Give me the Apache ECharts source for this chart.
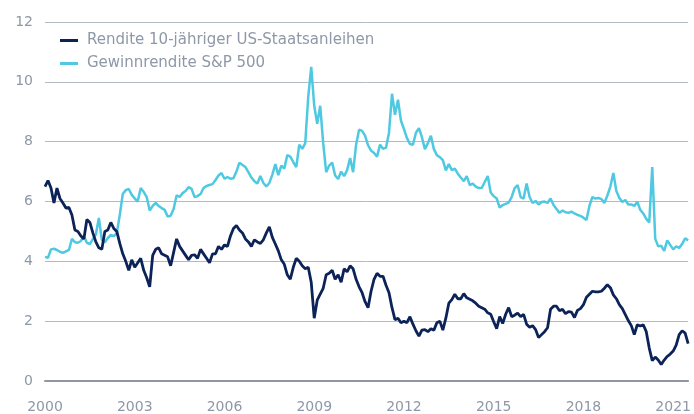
<!DOCTYPE html>
<html>
<head>
<meta charset="utf-8">
<script src="https://cdn.jsdelivr.net/npm/echarts@6/dist/echarts.min.js"></script>
<style>
  html, body { margin: 0; padding: 0; background: #fff; }
  #chart { width: 694px; height: 414px; }
</style>
</head>
<body>
<div id="chart"></div>
<script>
// Werte alle 0,1 Jahre ab 2000.0
const startYear = 2000
const stepYear = 0.1
const xTicks = [2000, 2003, 2006, 2009, 2012, 2015, 2018, 2021]

const treasury10y = [
  6.5, 6.7, 6.45, 5.95, 6.45, 6.1, 5.95, 5.78, 5.8, 5.55,
  5.05, 5.0, 4.85, 4.75, 5.4, 5.3, 4.95, 4.65, 4.45, 4.4,
  5.0, 5.05, 5.3, 5.1, 5.0, 4.6, 4.25, 4.0, 3.7, 4.05,
  3.8, 3.95, 4.1, 3.7, 3.45, 3.15, 4.2, 4.4, 4.45, 4.25,
  4.2, 4.15, 3.85, 4.3, 4.75, 4.5, 4.35, 4.2, 4.05, 4.2,
  4.22, 4.1, 4.4, 4.25, 4.1, 3.95, 4.25, 4.25, 4.5, 4.4,
  4.55, 4.5, 4.85, 5.1, 5.2, 5.05, 4.95, 4.75, 4.65, 4.5,
  4.72, 4.65, 4.6, 4.72, 4.95, 5.15, 4.8, 4.58, 4.35, 4.05,
  3.9, 3.55, 3.4, 3.8, 4.1, 4.0, 3.85, 3.75, 3.8, 3.3,
  2.1, 2.7, 2.9, 3.1, 3.55, 3.6, 3.7, 3.4, 3.55, 3.3,
  3.75, 3.65, 3.85, 3.75, 3.4, 3.15, 2.95, 2.65, 2.45, 3.0,
  3.4, 3.6, 3.5, 3.5, 3.2, 2.95, 2.45, 2.05, 2.1, 1.95,
  2.0, 1.95, 2.15, 1.9, 1.68, 1.5, 1.7, 1.72, 1.65, 1.75,
  1.7, 1.95, 2.0, 1.7, 2.1, 2.6, 2.72, 2.9, 2.75, 2.75,
  2.92, 2.78, 2.73, 2.68, 2.6, 2.5, 2.45, 2.4, 2.28, 2.23,
  1.98, 1.75, 2.15, 1.92, 2.23, 2.45, 2.15, 2.2, 2.27, 2.15,
  2.23, 1.9, 1.8, 1.85, 1.72, 1.45, 1.55, 1.65, 1.78, 2.4,
  2.5, 2.5, 2.35, 2.4, 2.25, 2.32, 2.3, 2.12, 2.36, 2.42,
  2.55, 2.8, 2.9, 3.0, 2.98, 2.98, 3.0, 3.1, 3.22, 3.12,
  2.88, 2.75, 2.55, 2.42, 2.22, 2.02, 1.85, 1.55, 1.88, 1.84,
  1.88, 1.65, 1.1, 0.68, 0.8, 0.7, 0.55, 0.7, 0.82, 0.9,
  1.0, 1.2, 1.55, 1.68, 1.6, 1.25
]

const earningsYield = [
  4.15, 4.12, 4.4, 4.42, 4.38, 4.32, 4.28, 4.33, 4.38, 4.75,
  4.64, 4.62, 4.68, 4.85, 4.62, 4.58, 4.74, 4.9, 5.45, 4.72,
  4.64, 4.78, 4.88, 4.84, 4.94, 5.55, 6.25, 6.38, 6.42, 6.22,
  6.1, 6.0, 6.45, 6.32, 6.15, 5.7, 5.85, 5.95, 5.85, 5.78,
  5.72, 5.5, 5.52, 5.75, 6.21, 6.15, 6.28, 6.35, 6.48, 6.42,
  6.15, 6.18, 6.25, 6.45, 6.52, 6.55, 6.58, 6.72, 6.87, 6.95,
  6.76, 6.82, 6.76, 6.78, 7.0, 7.3, 7.22, 7.15, 6.98, 6.8,
  6.68, 6.6, 6.85, 6.62, 6.5, 6.62, 6.9, 7.25, 6.88, 7.2,
  7.1, 7.55, 7.5, 7.32, 7.15, 7.9, 7.76, 7.95, 9.5, 10.5,
  9.2, 8.6, 9.2, 7.95, 6.98, 7.2, 7.3, 6.87, 6.75, 7.0,
  6.85, 7.05, 7.45, 6.98, 7.9, 8.4, 8.36, 8.2, 7.88, 7.7,
  7.62, 7.5, 7.9, 7.76, 7.8, 8.3, 9.6, 8.9, 9.4, 8.7,
  8.42, 8.12, 7.92, 7.9, 8.3, 8.45, 8.15, 7.75, 7.95, 8.2,
  7.75, 7.55, 7.48, 7.38, 7.04, 7.25, 7.05, 7.1, 6.93, 6.8,
  6.68, 6.85, 6.55, 6.6, 6.5, 6.45, 6.45, 6.65, 6.85, 6.3,
  6.18, 6.1, 5.8, 5.88, 5.92, 5.96, 6.15, 6.45, 6.55, 6.15,
  6.1, 6.6, 6.15, 5.95, 6.02, 5.9, 5.98, 6.0, 5.95, 6.1,
  5.88, 5.75, 5.62, 5.7, 5.64, 5.62, 5.66, 5.6, 5.55, 5.52,
  5.46, 5.38, 5.85, 6.15, 6.1, 6.12, 6.08, 5.95, 6.2, 6.5,
  6.95, 6.35, 6.12, 5.98, 6.05, 5.9, 5.9, 5.85, 5.99, 5.72,
  5.6, 5.42, 5.3, 7.15, 4.75, 4.5, 4.52, 4.35, 4.7, 4.55,
  4.4, 4.5, 4.45, 4.58, 4.77, 4.7
]

const nameTreasury = 'Rendite 10-jähriger US-Staatsanleihen'
const nameEarnings = 'Gewinnrendite S&P 500'

const toPairs = (arr) => arr.map((v, i) => [startYear + i * stepYear, v])

const font = 'DejaVu Sans'
const labelColor = '#8e98a6'

const chart = echarts.init(document.getElementById('chart'))
chart.setOption({
  animation: false,
  backgroundColor: '#fff',
  textStyle: { fontFamily: font },
  grid: { left: 45, right: 0, top: 22, bottom: 32 },
  legend: {
    data: [nameTreasury, nameEarnings],
    orient: 'vertical',
    left: 55,
    top: 28,
    itemWidth: 18,
    itemHeight: 3,
    itemGap: 8,
    icon: 'rect',
    textStyle: {
      color: labelColor,
      fontSize: 15,
      fontFamily: font,
      padding: [0, 0, 0, 4]
    }
  },
  xAxis: {
    type: 'value',
    min: 2000,
    max: 2021.5,
    interval: 3,
    axisLine: { show: true, onZero: false, lineStyle: { color: '#8e98a5', width: 2 } },
    axisTick: { show: false },
    splitLine: { show: false },
    axisLabel: {
      color: labelColor,
      fontSize: 14,
      margin: 19,
      showMaxLabel: false,
      formatter: (v) => xTicks.includes(Math.round(v)) ? String(Math.round(v)) : ''
    }
  },
  yAxis: {
    type: 'value',
    min: 0,
    max: 12,
    interval: 2,
    axisLine: { show: false },
    axisTick: { show: false },
    axisLabel: { color: labelColor, fontSize: 14, margin: 12 },
    splitLine: { lineStyle: { color: '#b3bac4', width: 1 } }
  },
  series: [
    {
      name: nameEarnings,
      type: 'line',
      data: toPairs(earningsYield),
      showSymbol: false,
      lineStyle: { width: 2.5, color: '#4fc9e1' },
      itemStyle: { color: '#4fc9e1' }
    },
    {
      name: nameTreasury,
      type: 'line',
      data: toPairs(treasury10y),
      showSymbol: false,
      lineStyle: { width: 2.8, color: '#0c2358' },
      itemStyle: { color: '#0c2358' }
    }
  ]
})
</script>
</body>
</html>
